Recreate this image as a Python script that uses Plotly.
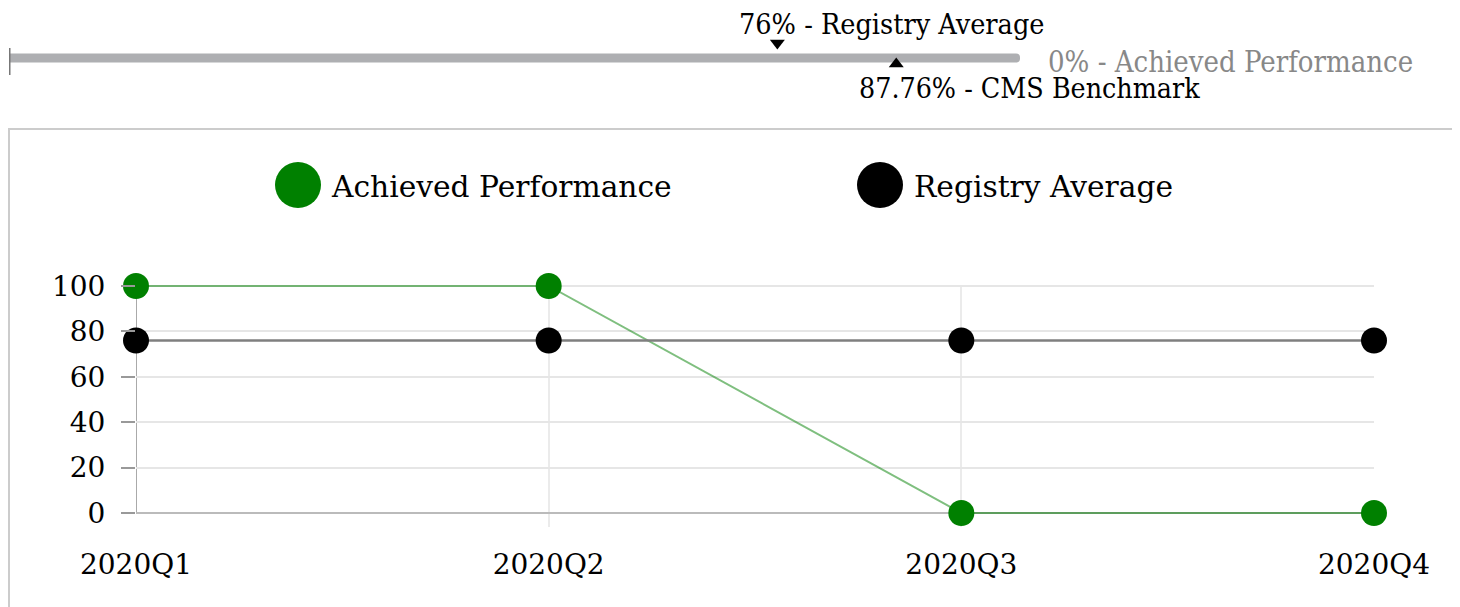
import plotly.graph_objects as go

# ---------------- data ----------------
quarters = ["2020Q1", "2020Q2", "2020Q3", "2020Q4"]
achieved = [100, 100, 0, 0]
registry = [76, 76, 76, 76]
y_ticks = [0, 20, 40, 60, 80, 100]

achieved_pct = 0
registry_avg_pct = 76
cms_benchmark_pct = 87.76

series_names = ["Achieved Performance", "Registry Average"]
series_colors = ["#008000", "#000000"]

W, H = 1460, 607
OFF = 8  # page body margin
def px(x):
    return (x - OFF) / W
def py(y):
    return 1 - (y - OFF) / H

SERIF = "DejaVu Serif"
COND = "DejaVu Serif Condensed, DejaVu Serif"

fig = go.Figure()

# ---------------- main chart ----------------
fig.add_trace(go.Scatter(
    x=quarters, y=achieved, mode="lines+markers", name=series_names[0],
    line=dict(color="rgba(0,128,0,0.5)", width=2),
    marker=dict(color=series_colors[0], size=26),
    cliponaxis=False, showlegend=False, xaxis="x", yaxis="y"))
fig.add_trace(go.Scatter(
    x=quarters, y=registry, mode="lines+markers", name=series_names[1],
    line=dict(color="#7f7f7f", width=2.5),
    marker=dict(color=series_colors[1], size=26),
    cliponaxis=False, showlegend=False, xaxis="x", yaxis="y"))

# ---------------- bullet bar ----------------
fig.add_trace(go.Bar(
    x=[100], y=[0], orientation="h", width=0.32,
    marker=dict(color="#aeafb2", cornerradius=4, line=dict(width=0)),
    xaxis="x2", yaxis="y2", showlegend=False, hoverinfo="skip"))
fig.add_trace(go.Bar(
    x=[achieved_pct], y=[0], orientation="h", width=0.32,
    marker=dict(color=series_colors[0], line=dict(width=0)),
    xaxis="x2", yaxis="y2", showlegend=False))
fig.add_trace(go.Scatter(
    x=[registry_avg_pct], y=[0.536], mode="markers",
    marker=dict(symbol="triangle-down", size=13, color="black"),
    xaxis="x2", yaxis="y2", showlegend=False, cliponaxis=False))
fig.add_trace(go.Scatter(
    x=[cms_benchmark_pct], y=[-0.21], mode="markers",
    marker=dict(symbol="triangle-up", size=13, color="black"),
    xaxis="x2", yaxis="y2", showlegend=False, cliponaxis=False))

shapes = []
# left tick of the bullet bar
shapes.append(dict(type="line", xref="x2", yref="paper", x0=0, x1=0,
                   y0=py(75), y1=py(48), line=dict(color="#777777", width=3)))
# panel border
shapes.append(dict(type="rect", xref="paper", yref="paper",
                   x0=px(9), x1=px(1457), y0=-0.1, y1=py(129),
                   line=dict(color="#cccccc", width=2), layer="below"))
# y-axis line
shapes.append(dict(type="line", xref="x", yref="y", x0=quarters[0], x1=quarters[0],
                   y0=0, y1=y_ticks[-1], line=dict(color="#aaaaaa", width=2), layer="below"))
# custom legend circles
legend_pos = [(298, 185), (880, 185)]
for (cx, cy), col in zip(legend_pos, series_colors):
    shapes.append(dict(type="circle", xref="paper", yref="paper",
                       xsizemode="pixel", ysizemode="pixel",
                       xanchor=px(cx), yanchor=py(cy),
                       x0=-23, x1=23, y0=-23, y1=23,
                       fillcolor=col, line=dict(width=0)))

annotations = []
legend_text_x = [329, 912]
for name, tx in zip(series_names, legend_text_x):
    annotations.append(dict(text=name, xref="paper", yref="paper",
                            x=px(tx), y=py(186), xanchor="left", yanchor="middle",
                            showarrow=False, font=dict(family=SERIF, size=29.7, color="black")))

annotations.append(dict(text=f"{registry_avg_pct}% - Registry Average",
                        xref="x2", yref="paper", x=registry_avg_pct, y=py(25),
                        xshift=114, xanchor="center", yanchor="middle", showarrow=False,
                        font=dict(family=COND, size=28.5, color="black")))
annotations.append(dict(text=f"{cms_benchmark_pct}% - CMS Benchmark",
                        xref="x2", yref="paper", x=cms_benchmark_pct, y=py(89),
                        xshift=133, xanchor="center", yanchor="middle", showarrow=False,
                        font=dict(family=COND, size=28.3, color="black")))
annotations.append(dict(text=f"{achieved_pct}% - Achieved Performance",
                        xref="x2", yref="paper", x=100, y=py(62),
                        xshift=26, xanchor="left", yanchor="middle", showarrow=False,
                        font=dict(family=COND, size=29, color="#888888")))

fig.update_layout(
    width=W, height=H,
    margin=dict(l=0, r=0, t=0, b=0, autoexpand=False),
    paper_bgcolor="white", plot_bgcolor="white",
    showlegend=False, barmode="overlay",
    font=dict(family=SERIF, size=28, color="black"),
    xaxis=dict(domain=[px(136), px(1374)], type="category", range=[0, 3],
               automargin=False,
               showgrid=True, gridcolor="#ebebeb", gridwidth=2,
               showline=False, zeroline=False, ticks="",
               ticklabelstandoff=18,
               tickfont=dict(family=SERIF, size=28, color="black")),
    yaxis=dict(domain=[py(527), py(284.6)], range=[-6.17, 100.6],
               automargin=False,
               tickvals=y_ticks, showgrid=True, gridcolor="#e6e6e6", gridwidth=2,
               zeroline=True, zerolinecolor="#bbbbbb", zerolinewidth=2,
               showline=False, ticks="outside", ticklen=14, tickwidth=2,
               tickcolor="#999999", ticklabelstandoff=10,
               tickfont=dict(family=SERIF, size=28, color="black")),
    xaxis2=dict(domain=[px(9), px(1020)], range=[0, 100], anchor="y2", automargin=False,
                showgrid=False, zeroline=False, showticklabels=False, showline=False),
    yaxis2=dict(domain=[py(86), py(30)], range=[-1, 1], anchor="x2", automargin=False,
                showgrid=False, zeroline=False, showticklabels=False, showline=False),
    shapes=shapes,
    annotations=annotations,
)

fig.write_html("out.html")
